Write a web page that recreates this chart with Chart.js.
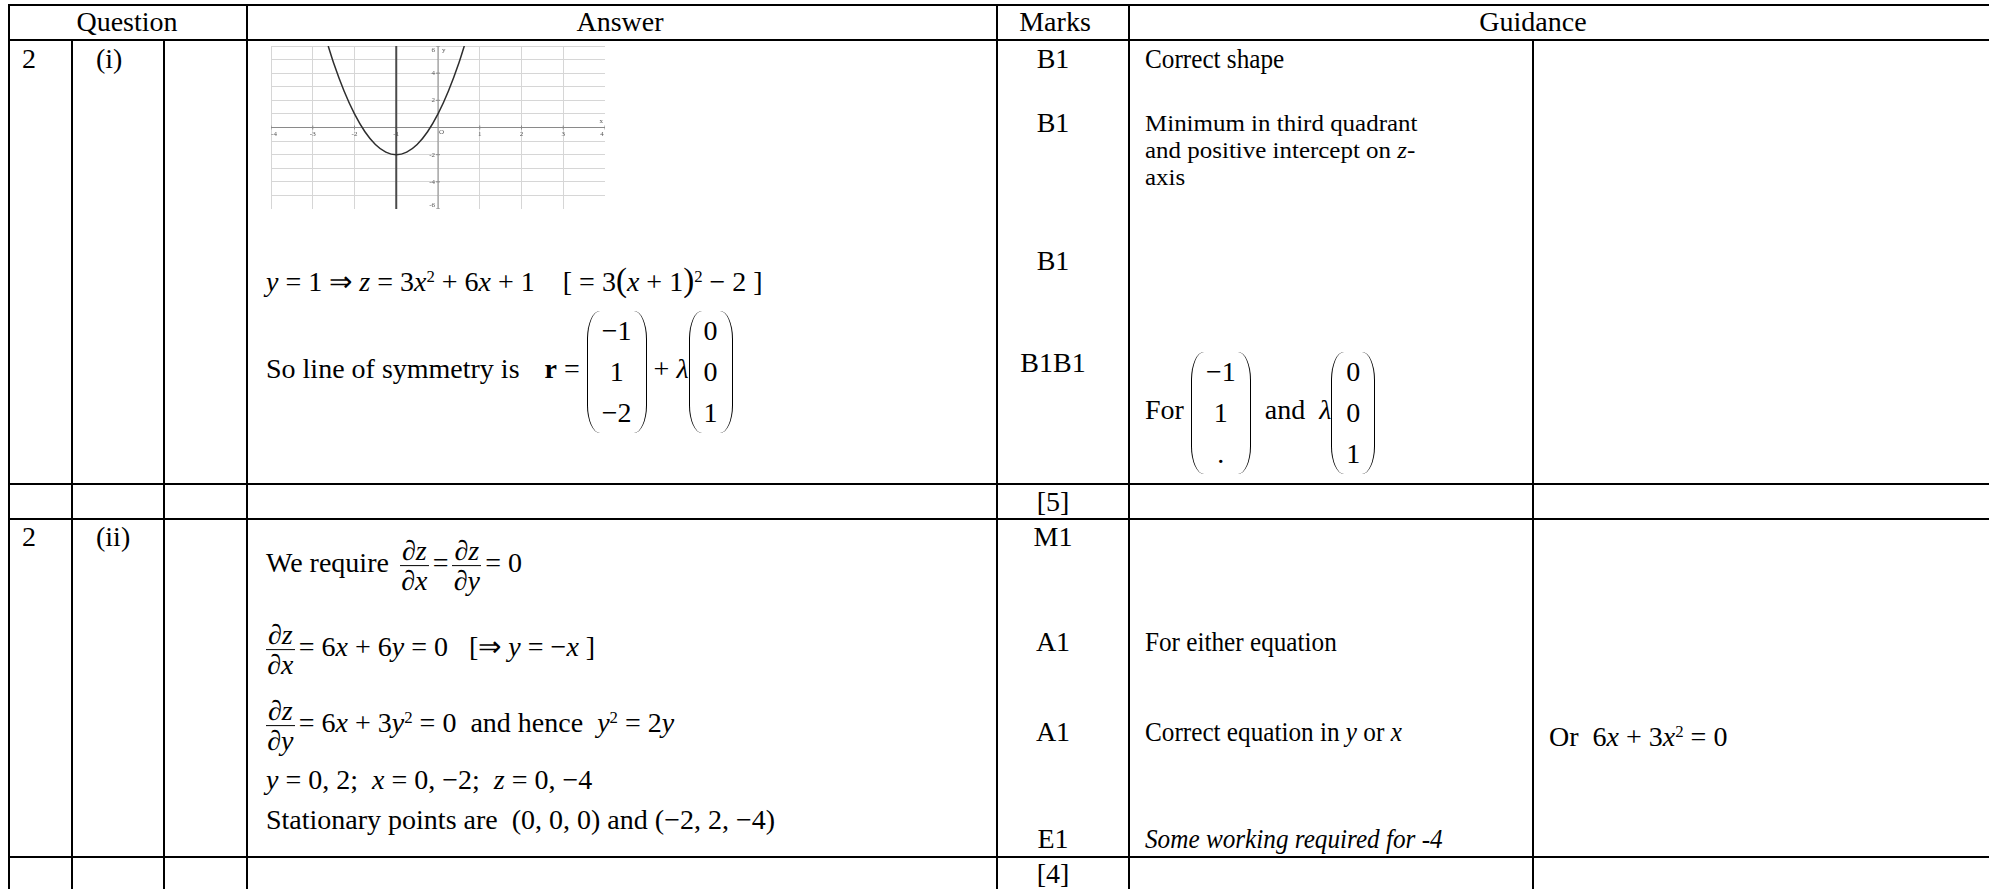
<!DOCTYPE html>
<html>
<head>
<meta charset="utf-8">
<script src="https://cdn.jsdelivr.net/npm/chart.js@4"></script>
<style>
body{margin:0;background:#fff;width:1989px;height:889px;overflow:hidden;position:relative;font-family:"Liberation Serif","Times New Roman",serif;font-size:28px;color:#000}
.h{position:absolute;background:#000;height:2px}
.v{position:absolute;background:#000;width:2px}
.t{position:absolute;white-space:nowrap;line-height:28px;transform:translateY(-50%)}
.c{transform:translate(-50%,-50%)}
.g{line-height:26px;transform-origin:left center;transform:translateY(-50%) scaleX(0.9)}
.gb{font-size:24px;line-height:27px;transform-origin:left center;transform:translateY(-50%) scaleX(1.04)}
i{font-style:italic}
sup{font-size:60%;vertical-align:0.55em;line-height:0}
.frac{display:inline-flex;flex-direction:column;align-items:center;vertical-align:middle;margin:0 4px;line-height:1.05}
.frac>span:first-child{border-bottom:1.5px solid #000;padding:0 2px}
.vec{display:inline-flex;flex-direction:column;justify-content:space-around;align-items:center;vertical-align:middle;position:relative;padding:0 15px;height:122px;line-height:1}
.vec::before,.vec::after{content:"";position:absolute;top:0;bottom:0;width:12px;border:0 solid #000}
.vec::before{left:0;border-left-width:1.8px;border-radius:14px 0 0 14px/30px 0 0 30px}
.vec::after{right:0;border-right-width:1.8px;border-radius:0 14px 14px 0/0 30px 30px 0}
.sp{display:inline-block}
#graph{position:absolute;left:271px;top:46px;width:334px;height:163px}
</style>
</head>
<body>
<!-- grid of the table -->
<div class="h" style="left:8px;top:4px;width:1981px"></div>
<div class="h" style="left:8px;top:39px;width:1981px"></div>
<div class="h" style="left:8px;top:483px;width:1981px"></div>
<div class="h" style="left:8px;top:518px;width:1981px"></div>
<div class="h" style="left:8px;top:856px;width:1981px"></div>
<div class="v" style="left:8px;top:4px;height:885px"></div>
<div class="v" style="left:71px;top:39px;height:850px"></div>
<div class="v" style="left:163px;top:39px;height:850px"></div>
<div class="v" style="left:246px;top:4px;height:885px"></div>
<div class="v" style="left:996px;top:4px;height:885px"></div>
<div class="v" style="left:1128px;top:4px;height:885px"></div>
<div class="v" style="left:1532px;top:39px;height:850px"></div>

<!-- header -->
<div class="t c" style="left:127px;top:22px">Question</div>
<div class="t c" style="left:620px;top:22px">Answer</div>
<div class="t c" style="left:1055px;top:22px">Marks</div>
<div class="t c" style="left:1533px;top:22px">Guidance</div>

<!-- 2 (i) -->
<div class="t" style="left:22px;top:59px">2</div>
<div class="t" style="left:96px;top:59px">(i)</div>
<div id="graph"><canvas id="zChart" width="334" height="163"></canvas></div>
<div class="t" style="left:266px;top:281px"><i>y</i> = 1 ⇒ <i>z</i> = 3<i>x</i><sup>2</sup> + 6<i>x</i> + 1 &nbsp;&nbsp; [ = 3<span style="font-size:33px">(</span><i>x</i> + 1<span style="font-size:33px">)</span><sup>2</sup> − 2 ]</div>
<div class="t" style="left:266px;top:372px">So line of symmetry is <span class="sp" style="width:18px"></span><b>r</b> = <span class="vec"><span>−1</span><span>1</span><span>−2</span></span> + <i>λ</i><span class="vec"><span>0</span><span>0</span><span>1</span></span></div>
<div class="t c" style="left:1053px;top:59px">B1</div>
<div class="t g" style="left:1145px;top:59px">Correct shape</div>
<div class="t c" style="left:1053px;top:123px">B1</div>
<div class="t gb" style="left:1145px;top:150px">Minimum in third quadrant<br>and positive intercept on <i>z</i>-<br>axis</div>
<div class="t c" style="left:1053px;top:261px">B1</div>
<div class="t c" style="left:1053px;top:363px">B1B1</div>
<div class="t" style="left:1145px;top:413px">For <span class="vec"><span>−1</span><span>1</span><span>.</span></span> &nbsp;and&nbsp; <i>λ</i><span class="vec"><span>0</span><span>0</span><span>1</span></span></div>
<div class="t c" style="left:1053px;top:502px">[5]</div>

<!-- 2 (ii) -->
<div class="t" style="left:22px;top:537px">2</div>
<div class="t" style="left:96px;top:537px">(ii)</div>
<div class="t c" style="left:1053px;top:537px">M1</div>
<div class="t" style="left:266px;top:566px">We require <span class="frac"><span>∂<i>z</i></span><span>∂<i>x</i></span></span>=<span class="frac"><span>∂<i>z</i></span><span>∂<i>y</i></span></span>= 0</div>
<div class="t" style="left:266px;top:650px"><span class="frac" style="margin-left:0"><span>∂<i>z</i></span><span>∂<i>x</i></span></span>= 6<i>x</i> + 6<i>y</i> = 0 &nbsp;&nbsp;[⇒ <i>y</i> = −<i>x</i> ]</div>
<div class="t c" style="left:1053px;top:642px">A1</div>
<div class="t g" style="left:1145px;top:642px">For either equation</div>
<div class="t" style="left:266px;top:726px"><span class="frac" style="margin-left:0"><span>∂<i>z</i></span><span>∂<i>y</i></span></span>= 6<i>x</i> + 3<i>y</i><sup>2</sup> = 0 &nbsp;and hence &nbsp;<i>y</i><sup>2</sup> = 2<i>y</i></div>
<div class="t c" style="left:1053px;top:732px">A1</div>
<div class="t g" style="left:1145px;top:732px">Correct equation in <i>y</i> or <i>x</i></div>
<div class="t" style="left:1549px;top:737px">Or &nbsp;6<i>x</i> + 3<i>x</i><sup>2</sup> = 0</div>
<div class="t" style="left:266px;top:780px"><i>y</i> = 0, 2; &nbsp;<i>x</i> = 0, −2; &nbsp;<i>z</i> = 0, −4</div>
<div class="t" style="left:266px;top:820px">Stationary points are &nbsp;(0, 0, 0) and (−2, 2, −4)</div>
<div class="t c" style="left:1053px;top:839px">E1</div>
<div class="t g" style="left:1145px;top:839px"><i>Some working required for -4</i></div>
<div class="t c" style="left:1053px;top:874px">[4]</div>

<script>
// graph values: z = 3x^2 + 6x + 1 on the plane y = 1
const xTicks = [-4, -3, -2, -1, 1, 2, 3, 4];
const yTicks = [-6, -4, -2, 2, 4, 6];
const curveX = [-2.63, -2.5, -2.25, -2, -1.75, -1.5, -1.25, -1, -0.75, -0.5, -0.25, 0, 0.25, 0.5, 0.63];
const curveZ = [6, 4.75, 2.69, 1, -0.31, -1.25, -1.81, -2, -1.81, -1.25, -0.31, 1, 2.69, 4.75, 6];
const symX = [-1, -1];
const symZ = [-6, 6];

const toPoints = (xs, ys) => xs.map((x, i) => ({x: x, y: ys[i]}));

// axes drawn through the origin, with their labels next to them
const axesAtZero = {
    id: 'axesAtZero',
    beforeDatasetsDraw(chart) {
        const {ctx, chartArea, scales} = chart;
        const x0 = scales.x.getPixelForValue(0);
        const y0 = scales.y.getPixelForValue(0);
        ctx.save();
        ctx.strokeStyle = '#8a8a8a';
        ctx.lineWidth = 1;
        ctx.beginPath();
        ctx.moveTo(chartArea.left, y0); ctx.lineTo(chartArea.right, y0);
        ctx.moveTo(x0, chartArea.top); ctx.lineTo(x0, chartArea.bottom);
        ctx.stroke();
        ctx.font = '7px "Liberation Serif"';
        ctx.fillStyle = '#555';
        ctx.textAlign = 'center';
        ctx.textBaseline = 'top';
        xTicks.forEach(v => {
            const px = scales.x.getPixelForValue(v);
            ctx.beginPath(); ctx.moveTo(px, y0 - 2); ctx.lineTo(px, y0 + 2); ctx.stroke();
            ctx.fillText(String(v), Math.min(Math.max(px, chartArea.left + 3), chartArea.right - 3), y0 + 3);
        });
        ctx.textAlign = 'right';
        ctx.textBaseline = 'middle';
        yTicks.forEach(v => {
            const py = scales.y.getPixelForValue(v);
            ctx.beginPath(); ctx.moveTo(x0 - 2, py); ctx.lineTo(x0 + 2, py); ctx.stroke();
            ctx.fillText(String(v), x0 - 3, Math.min(Math.max(py, chartArea.top + 4), chartArea.bottom - 4));
        });
        ctx.textAlign = 'left';
        ctx.fillText('O', x0 + 1, y0 + 5);
        ctx.fillText('y', x0 + 4, chartArea.top + 4);
        ctx.textAlign = 'right';
        ctx.fillText('x', chartArea.right - 2, y0 - 6);
        ctx.restore();
    }
};

new Chart(document.getElementById('zChart').getContext('2d'), {
    type: 'scatter',
    data: {
        datasets: [{
            data: toPoints(curveX, curveZ),
            showLine: true,
            borderColor: '#2e2e2e',
            borderWidth: 1.5,
            pointRadius: 0,
            cubicInterpolationMode: 'monotone'
        }, {
            data: toPoints(symX, symZ),
            showLine: true,
            borderColor: '#4a4a4a',
            borderWidth: 2,
            pointRadius: 0
        }]
    },
    options: {
        responsive: false,
        animation: false,
        layout: {padding: 0},
        plugins: {legend: {display: false}, tooltip: {enabled: false}},
        scales: {
            x: {
                min: -4, max: 4,
                ticks: {display: false, stepSize: 1},
                grid: {color: '#d6d6d6', drawTicks: false},
                border: {display: false}
            },
            y: {
                min: -6, max: 6,
                ticks: {display: false, stepSize: 1},
                grid: {color: '#d6d6d6', drawTicks: false},
                border: {display: false}
            }
        }
    },
    plugins: [axesAtZero]
});
</script>
</body>
</html>
